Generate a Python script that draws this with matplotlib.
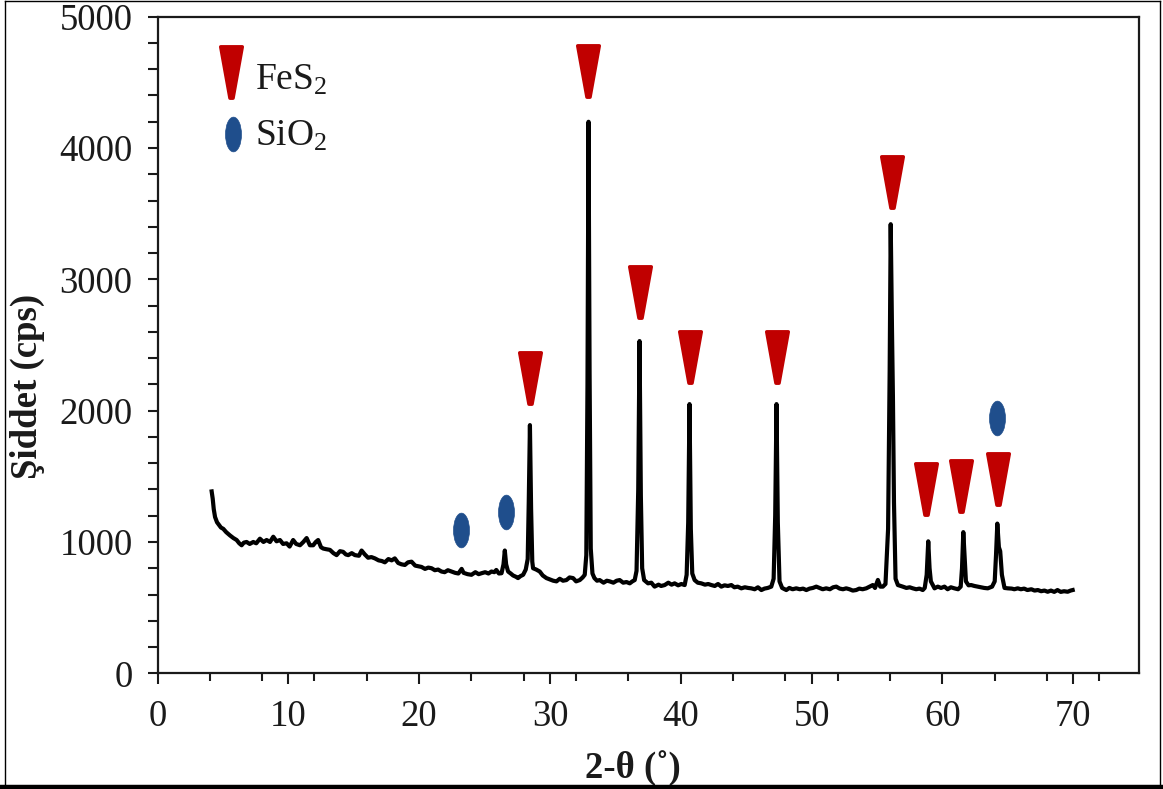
import numpy as np
import matplotlib.pyplot as plt
from matplotlib.path import Path
from matplotlib.markers import MarkerStyle
from matplotlib.transforms import Affine2D
from matplotlib.lines import Line2D

plt.rcParams['font.family'] = ['Liberation Serif', 'DejaVu Serif']
plt.rcParams['mathtext.fontset'] = 'custom'
plt.rcParams['mathtext.rm'] = 'Liberation Serif'
plt.rcParams['mathtext.it'] = 'Liberation Serif:italic'

# XRD scan, 2-theta (deg) vs intensity (cps)
two_theta = [
    4.14, 4.22, 4.30, 4.40, 4.55, 4.70, 4.85, 5.03, 5.25, 5.54, 5.80, 6.05, 6.25, 6.43, 6.60,
    6.81, 7.05, 7.32, 7.55, 7.83, 8.10, 8.34, 8.60, 8.85, 9.10, 9.36, 9.60, 9.87, 10.10, 10.37,
    10.60, 10.89, 11.15, 11.40, 11.65, 11.90, 12.10, 12.28, 12.50, 12.67, 12.90, 13.18, 13.45,
    13.69, 13.95, 14.19, 14.40, 14.58, 14.85, 15.09, 15.40, 15.60, 15.85, 16.10, 16.35, 16.62,
    16.90, 17.15, 17.38, 17.65, 17.90, 18.14, 18.40, 18.65, 18.91, 19.15, 19.42, 19.70, 19.95,
    20.18, 20.45, 20.70, 20.95, 21.20, 21.45, 21.71, 21.95, 22.20, 22.48, 22.75, 23.00, 23.25,
    23.40, 23.70, 24.00, 24.30, 24.55, 24.77, 25.05, 25.30, 25.53, 25.75, 25.90, 26.10, 26.30,
    26.45, 26.55, 26.65, 26.80, 27.00, 27.18, 27.40, 27.56, 27.75, 27.95, 28.15, 28.30, 28.38,
    28.47, 28.56, 28.65, 28.71, 28.95, 29.22, 29.45, 29.73, 30.00, 30.25, 30.50, 30.75, 31.00,
    31.26, 31.50, 31.77, 32.00, 32.28, 32.50, 32.66, 32.78, 32.87, 32.95, 33.03, 33.12, 33.25,
    33.40, 33.60, 33.80, 34.10, 34.35, 34.57, 34.85, 35.10, 35.33, 35.60, 35.85, 36.10, 36.30,
    36.48, 36.62, 36.75, 36.85, 36.95, 37.05, 37.20, 37.50, 37.75, 38.00, 38.30, 38.50, 38.77,
    39.05, 39.30, 39.53, 39.80, 40.05, 40.30, 40.45, 40.57, 40.67, 40.77, 40.88, 41.06, 41.30,
    41.57, 41.85, 42.10, 42.34, 42.60, 42.85, 43.10, 43.35, 43.60, 43.87, 44.10, 44.35, 44.63,
    44.90, 45.15, 45.39, 45.65, 45.90, 46.16, 46.40, 46.65, 46.92, 47.10, 47.22, 47.32, 47.42,
    47.55, 47.75, 48.07, 48.30, 48.55, 48.83, 49.10, 49.35, 49.60, 49.85, 50.10, 50.36, 50.60,
    50.85, 51.12, 51.40, 51.65, 51.89, 52.15, 52.40, 52.65, 52.90, 53.15, 53.41, 53.65, 53.90,
    54.18, 54.45, 54.68, 54.85, 55.07, 55.25, 55.45, 55.65, 55.85, 55.97, 56.05, 56.15, 56.22,
    56.30, 56.42, 56.60, 56.97, 57.25, 57.50, 57.74, 58.00, 58.25, 58.50, 58.65, 58.80, 58.92,
    59.02, 59.12, 59.40, 59.65, 59.90, 60.16, 60.40, 60.65, 60.92, 61.20, 61.40, 61.50, 61.60,
    61.70, 61.80, 62.00, 62.20, 62.45, 62.70, 62.95, 63.20, 63.47, 63.80, 64.00, 64.10, 64.20,
    64.32, 64.42, 64.55, 64.75, 65.00, 65.30, 65.50, 65.76, 66.00, 66.25, 66.50, 66.80, 67.05,
    67.30, 67.55, 67.80, 68.05, 68.30, 68.55, 68.80, 69.05, 69.30, 69.58, 69.80, 69.96,
]
cps = [
    1385, 1330, 1250, 1190, 1150, 1130, 1110, 1100, 1075, 1050, 1030, 1015, 990, 975, 995,
    1000, 985, 1000, 990, 1025, 1000, 1015, 1000, 1040, 1005, 1015, 985, 990, 965, 1015,
    985, 975, 1000, 1030, 975, 975, 1000, 1015, 960, 950, 945, 940, 915,
    900, 930, 925, 905, 900, 915, 900, 895, 935, 905, 880, 885, 875,
    860, 855, 845, 870, 860, 875, 840, 830, 825, 845, 850, 820, 815,
    810, 795, 805, 800, 785, 790, 775, 770, 785, 775, 765, 760, 795,
    765, 755, 750, 770, 755, 762, 770, 760, 775, 770, 787, 760, 762,
    830, 935, 830, 775, 760, 745, 735, 725, 740, 750, 790, 870, 1300,
    1890, 1250, 850, 800, 790, 775, 745, 725, 715, 705, 700, 720, 705,
    710, 730, 725, 700, 710, 730, 750, 900, 2200, 4200, 2300, 950, 760,
    725, 705, 710, 690, 705, 700, 690, 705, 710, 690, 695, 685, 700,
    710, 780, 1400, 2530, 1350, 800, 710, 685, 690, 660, 675, 665, 672,
    690, 675, 685, 670, 680, 672, 750, 1150, 2050, 1100, 760, 710, 690,
    685, 675, 680, 672, 665, 680, 660, 670, 665, 672, 655, 660, 647,
    655, 650, 647, 640, 655, 634, 645, 650, 660, 720, 1200, 2050, 1150,
    700, 650, 634, 650, 640, 647, 640, 645, 634, 645, 650, 660, 650,
    640, 647, 640, 655, 660, 645, 640, 647, 640, 630, 634, 645, 640,
    647, 660, 672, 650, 711, 660, 660, 680, 1100, 2300, 3420, 2600, 2100,
    1300, 720, 672, 660, 650, 655, 647, 640, 645, 634, 650, 750, 1005,
    800, 700, 647, 660, 650, 660, 640, 655, 647, 640, 660, 800, 1075,
    880, 700, 670, 672, 665, 660, 655, 650, 647, 660, 700, 900, 1140,
    960, 930, 750, 650, 647, 645, 640, 647, 640, 645, 634, 640, 630,
    634, 625, 630, 621, 630, 620, 634, 620, 625, 621, 630, 634,
]

# phase markers placed above the reflections
fes2_x = [28.45, 32.93, 36.86, 40.68, 47.33, 56.12, 58.78, 61.42, 64.24]
fes2_y = [2250, 4590, 2900, 2405, 2405, 3740, 1400, 1430, 1476]
sio2_x = [23.18, 26.62, 64.17]
sio2_y = [1090, 1228, 1944]

x_major = list(range(0, 71, 10))
x_minor = list(range(0, 73, 4))
y_major = list(range(0, 5001, 1000))
y_minor = list(range(0, 5001, 200))

red = '#C00000'
blue = '#1F4E8C'
ink = '#1a1a1a'

W, H = 1163, 789
fig = plt.figure(figsize=(W / 100, H / 100), dpi=100)
ax = fig.add_axes([157.5 / W, 1 - 673.3 / H, (1138.6 - 157.5) / W, (673.3 - 16.7) / H])

ax.plot(two_theta, cps, color='black', lw=3.0, solid_joinstyle='round', zorder=3)

tri_path = Path([(-0.42, 1), (0.42, 1), (0.06, -1), (-0.06, -1), (-0.42, 1)],
                [Path.MOVETO, Path.LINETO, Path.LINETO, Path.LINETO, Path.CLOSEPOLY])
tri = MarkerStyle(tri_path, joinstyle='round')
oval = MarkerStyle(Path.unit_circle().transformed(Affine2D().scale(0.46, 1.0)))

ax.plot(fes2_x, fes2_y, ls='none', marker=tri, ms=37, mfc=red, mec=red, mew=2.5,
        clip_on=False, zorder=4)
ax.plot(sio2_x, sio2_y, ls='none', marker=oval, ms=25, mfc=blue, mec=blue, mew=0.5,
        clip_on=False, zorder=4)

# hand-placed key in the upper left corner
ax.plot([0.0754], [0.9158], transform=ax.transAxes, ls='none', marker=tri, ms=37,
        mfc=red, mec=red, mew=2.5)
ax.plot([0.0769], [0.8213], transform=ax.transAxes, ls='none', marker=oval, ms=25,
        mfc=blue, mec=blue, mew=0.5)
ax.text(0.0993, 0.903, r'FeS$_2$', transform=ax.transAxes, fontsize=27, color=ink,
        va='center', ha='left')
ax.text(0.0993, 0.818, r'SiO$_2$', transform=ax.transAxes, fontsize=27, color=ink,
        va='center', ha='left')

ax.set_xlim(0, 75)
ax.set_ylim(0, 5000)
ax.set_xticks(x_major)
ax.set_xticks(x_minor, minor=True)
ax.set_yticks(y_major)
ax.set_yticks(y_minor, minor=True)

for s in ax.spines.values():
    s.set_linewidth(1.6)
    s.set_color(ink)

ax.tick_params(axis='both', which='both', direction='out', width=1.5, color=ink,
               labelcolor=ink, labelsize=26.5)
ax.tick_params(axis='x', which='major', length=8, pad=11)
ax.tick_params(axis='x', which='minor', length=6)
ax.tick_params(axis='y', which='both', length=7, pad=11)

fig.text(27 / W, 1 - 386 / H, 'Şiddet (cps)', rotation=90, fontsize=26.5,
         fontweight='bold', color=ink, ha='center', va='center')
fig.text(633 / W, 1 - 768 / H, '2-θ (˚)', fontsize=26.5, fontweight='bold', color=ink,
         ha='center', va='center', zorder=1)

# frame around the whole figure
fig.add_artist(Line2D([5 / W, 5 / W], [2 / H, 1 - 1 / H], color='black', lw=1.0, zorder=5))
fig.add_artist(Line2D([5 / W, 1160 / W], [1 - 1 / H, 1 - 1 / H], color='black', lw=1.0, zorder=5))
fig.add_artist(Line2D([1160 / W, 1160 / W], [2 / H, 1 - 1 / H], color='black', lw=1.0, zorder=5))
fig.add_artist(Line2D([0, 1], [2 / H, 2 / H], color='black', lw=3.2, zorder=5))

fig.savefig('out.png', dpi=100)
